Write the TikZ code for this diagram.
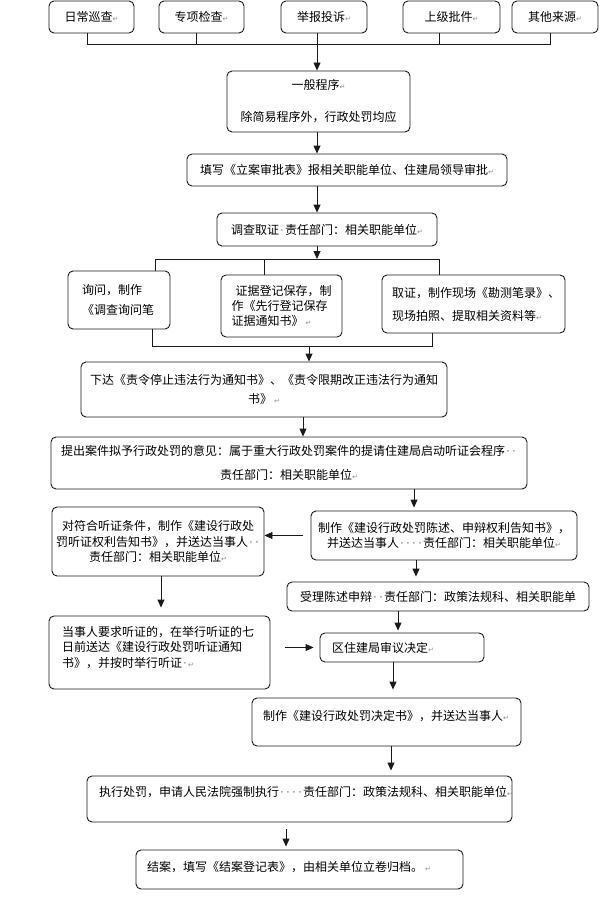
\documentclass[tikz,border=0pt]{standalone}
\usepackage{fontspec}
\setmainfont{Noto Sans CJK SC}
\newfontfamily\symfont{DejaVu Sans}
\usetikzlibrary{arrows.meta, positioning, calc}
\definecolor{linec}{HTML}{1a1a1a}
\definecolor{markc}{HTML}{8c8c8c}
\newcommand{\pmark}{{\symfont\fontsize{7}{7}\selectfont\textcolor{markc}{↵}}}
\newcommand{\sdot}{\makebox[6pt]{\symfont\fontsize{12}{12}\selectfont\textcolor{markc!90!black}{·}}}

\begin{document}
\begin{tikzpicture}[x=1pt, y=-1pt,
  box/.style={draw=linec, line width=0.9pt, rounded corners=5pt, align=center, inner xsep=4pt, inner ysep=0pt, font=\fontsize{12}{15}\selectfont},
  lbox/.style={box, align=left, inner xsep=#1},
  lbox/.default=12pt,
  arr/.style={-{Triangle[length=8pt, width=7pt]}, line width=0.9pt, draw=linec},
  ln/.style={line width=0.9pt, draw=linec}
]
\useasboundingbox (0,0) rectangle (599,915);

% case sources
\node[box, minimum width=85pt, minimum height=32pt] (src1) at (91.5,17) {日常巡查\pmark};
\node[box, minimum width=85pt, minimum height=32pt] (src2) at (201.5,17) {专项检查\pmark};
\node[box, minimum width=86pt, minimum height=32pt] (src3) at (324,17) {举报投诉\pmark};
\node[box, minimum width=97pt, minimum height=32pt] (src4) at (451.5,17) {上级批件\pmark};
\node[box, minimum width=86pt, minimum height=32pt] (src5) at (555,17) {其他来源\pmark};

\coordinate (join) at (317,44);
\draw[ln] ([xshift=-4.5pt]src1.south) |- (join);
\draw[ln] ([xshift=-5.5pt]src2.south) |- (join);
\draw[ln] ([xshift=-7pt]src3.south) -- (join);
\draw[ln] ([xshift=-12.5pt]src4.south) |- (join);
\draw[ln] ([xshift=-5pt]src5.south) |- (join);

% filing and investigation
\node[box, minimum width=183pt, minimum height=61pt] (gen) at (318.5,101.5) {一般程序\pmark\\[17pt]除简易程序外，行政处罚均应};
\node[box, minimum width=320pt, minimum height=32pt] (fill) at (347,170) {填写《立案审批表》报相关职能单位、住建局领导审批\pmark};
\node[box, minimum width=220pt, minimum height=33pt] (inv) at (327,229.5) {调查取证\sdot{}责任部门：相关职能单位\pmark};
\draw[arr] (join) -- (join |- gen.north);
\draw[arr] (join |- gen.south) -- (join |- fill.north);
\draw[arr] (join |- fill.south) -- (join |- inv.north);

\coordinate (split) at (317,259);
\draw[arr] (join |- inv.south) -- (split);

\node[lbox=14pt, text width=74pt, minimum height=58pt] (ask) at (119,300) {询问，制作\\[5pt]《调查询问笔};
\node[lbox=10.5pt, text width=100pt, minimum height=62pt] (evid) at (281.5,306) {\hspace{4pt}证据登记保存，制\\作《先行登记保存\\证据通知书》\,\pmark};
\node[lbox=10pt, text width=163pt, minimum height=58pt] (coll) at (473.5,304) {取证，制作现场《勘测笔录》、\\[8pt]现场拍照、提取相关资料等\pmark};

\draw[ln] ([xshift=36pt]ask.north) |- (split);
\draw[ln] ([xshift=-34.5pt]coll.north) |- (split);
\draw[ln] ([xshift=-17.5pt]evid.north) -- ([xshift=-17.5pt]evid.north |- split);

\coordinate (merge) at (309,346);
\draw[ln] ([xshift=33pt]ask.south) |- (merge);
\draw[ln] ([xshift=-41.5pt]coll.south) |- (merge);

% orders and penalty opinion
\node[box, minimum width=366pt, minimum height=55pt] (order) at (264,389.5) {下达《责令停止违法行为通知书》、《责令限期改正违法行为通知\\[4pt]书》\,\pmark};
\node[box, minimum width=476pt, minimum height=52pt] (prop) at (289,463) {提出案件拟予行政处罚的意见：属于重大行政处罚案件的提请住建局启动听证会程序\sdot\sdot\\[9pt]责任部门：相关职能单位\pmark};
\draw[arr] (merge) -- (merge |- order.north);
\draw[arr] ([xshift=39pt]order.south) -- ([xshift=39pt]order.south |- prop.north);

\node[box, minimum width=266pt, minimum height=49pt] (notice) at (444,535.5) {制作《建设行政处罚陈述、申辩权利告知书》，\\[0.5pt]并送达当事人\sdot\sdot\sdot\sdot{}责任部门：相关职能单位\pmark};
\node[box, minimum width=212pt, minimum height=69pt] (hear) at (158,541.5) {对符合听证条件，制作《建设行政处\\[0.5pt]罚听证权利告知书》，并送达当事人\sdot\sdot\\[0.5pt]责任部门：相关职能单位\pmark};
\draw[arr, shorten >=3pt] ([xshift=-30pt]notice.north |- prop.south) -- ([xshift=-30pt]notice.north);
\draw[arr] ([xshift=-8pt]notice.west) -- (notice.west -| hear.east);

% hearing, statement and decision
\node[box, minimum width=302pt, minimum height=29pt] (accept) at (438,596.5) {受理陈述申辩\sdot\sdot{}责任部门：政策法规科、相关职能单};
\node[lbox=13pt, text width=195pt, minimum height=73pt, text depth=42.5pt] (party) at (159.5,652.5) {当事人要求听证的，在举行听证的七\\[0.5pt]日前送达《建设行政处罚听证通知\\[0.5pt]书》，并按时举行听证\sdot\pmark};
\node[lbox=12pt, text width=140pt, minimum height=29pt] (review) at (402,647.5) {区住建局审议决定\pmark};
\node[lbox=11pt, text width=247pt, minimum height=48pt, text depth=13.5pt] (decide) at (386.5,722) {制作《建设行政处罚决定书》，并送达当事人\pmark};
\node[lbox=12pt, text width=401pt, minimum height=46pt, text depth=15.5pt] (exec) at (299.5,799) {执行处罚，申请人民法院强制执行\sdot\sdot\sdot\sdot{}责任部门：政策法规科、相关职能单位\pmark};
\node[lbox=11pt, text width=305pt, minimum height=39pt, text depth=6.5pt] (close) at (299.5,869.5) {结案，填写《结案登记表》，由相关单位立卷归档。\,\pmark};

\draw[arr, shorten >=8pt] ([xshift=3pt]hear.south) -- ([xshift=3pt]hear.south |- party.north);
\draw[arr, shorten >=5pt] ([xshift=-28pt]notice.south) -- ([xshift=-28pt]notice.south |- accept.north);
\draw[arr, shorten >=2pt] ([xshift=-4pt]review.north |- accept.south) -- ([xshift=-4pt]review.north);
\draw[arr, shorten >=6pt] ([xshift=15pt]party.east |- review.west) -- (review.west);
\draw[arr, shorten >=8pt] ([xshift=-9pt]review.south) -- ([xshift=-9pt]review.south |- decide.north);
\draw[arr, shorten >=5pt] ([xshift=4.5pt]decide.south) -- ([xshift=4.5pt]decide.south |- exec.north);
\draw[arr, shorten <=7pt, shorten >=3pt] ([xshift=-13.5pt]exec.south) -- ([xshift=-13.5pt]exec.south |- close.north);
\end{tikzpicture}
\end{document}
